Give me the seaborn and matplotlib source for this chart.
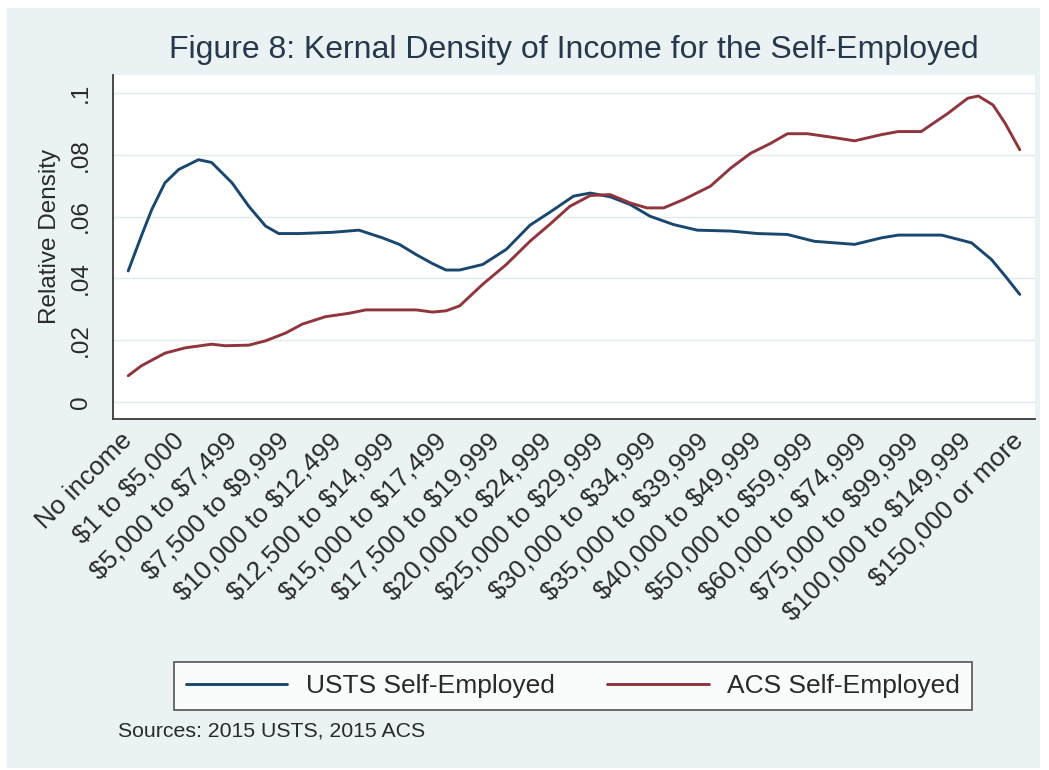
import matplotlib
matplotlib.use("Agg")
import matplotlib.pyplot as plt
from matplotlib.patches import Rectangle
import numpy as np
import pandas as pd
import seaborn as sns

# Income brackets shown on the x axis
categories = [
    "No income", "$1 to $5,000", "$5,000 to $7,499", "$7,500 to $9,999",
    "$10,000 to $12,499", "$12,500 to $14,999", "$15,000 to $17,499",
    "$17,500 to $19,999", "$20,000 to $24,999", "$25,000 to $29,999",
    "$30,000 to $34,999", "$35,000 to $39,999", "$40,000 to $49,999",
    "$50,000 to $59,999", "$60,000 to $74,999", "$75,000 to $99,999",
    "$100,000 to $149,999", "$150,000 or more",
]

# Kernel density curve, USTS self-employed (position in bracket units, density)
usts_pos = [0.00, 0.25, 0.45, 0.70, 0.96, 1.34, 1.59, 1.98, 2.30, 2.62, 2.87,
            3.25, 3.89, 4.40, 4.85, 5.17, 5.49, 5.80, 6.06, 6.32, 6.76, 7.21,
            7.66, 8.04, 8.49, 8.81, 9.19, 9.57, 9.95, 10.40, 10.85, 11.49,
            12.00, 12.57, 13.08, 13.85, 14.36, 14.68, 15.51, 16.08, 16.46,
            16.72, 17.00]
usts_val = [0.0424, 0.0537, 0.0623, 0.0709, 0.0752, 0.0784, 0.0775, 0.0709,
            0.0633, 0.0569, 0.0545, 0.0545, 0.0549, 0.0556, 0.0531, 0.0510,
            0.0477, 0.0448, 0.0427, 0.0427, 0.0445, 0.0494, 0.0572, 0.0614,
            0.0666, 0.0676, 0.0664, 0.0639, 0.0601, 0.0574, 0.0556, 0.0553,
            0.0545, 0.0542, 0.0520, 0.0510, 0.0531, 0.0540, 0.0540, 0.0515,
            0.0461, 0.0408, 0.0348]

# Kernel density curve, ACS self-employed
acs_pos = [0.00, 0.25, 0.70, 1.08, 1.59, 1.85, 2.30, 2.62, 3.00, 3.32, 3.76,
           4.21, 4.53, 5.49, 5.80, 6.06, 6.32, 6.76, 7.21, 7.66, 8.04, 8.42,
           8.81, 9.19, 9.57, 9.89, 10.21, 10.59, 11.10, 11.49, 11.87, 12.25,
           12.57, 12.95, 13.40, 13.85, 14.36, 14.68, 15.12, 15.63, 16.01,
           16.21, 16.49, 16.72, 17.00]
acs_val = [0.0085, 0.0117, 0.0158, 0.0175, 0.0187, 0.0182, 0.0184, 0.0198,
           0.0223, 0.0252, 0.0276, 0.0287, 0.0298, 0.0298, 0.0291, 0.0295,
           0.0311, 0.0381, 0.0445, 0.0520, 0.0575, 0.0633, 0.0668, 0.0671,
           0.0644, 0.0628, 0.0628, 0.0655, 0.0698, 0.0757, 0.0805, 0.0837,
           0.0868, 0.0868, 0.0857, 0.0845, 0.0865, 0.0875, 0.0875, 0.0934,
           0.0983, 0.0990, 0.0961, 0.0902, 0.0816]

y_ticks = [0, 0.02, 0.04, 0.06, 0.08, 0.1]
y_tick_labels = ["0", ".02", ".04", ".06", ".08", ".1"]

series_names = ["USTS Self-Employed", "ACS Self-Employed"]
series_colors = ["#1a476f", "#90353b"]

df = pd.concat([
    pd.DataFrame({"pos": usts_pos, "density": usts_val, "series": series_names[0]}),
    pd.DataFrame({"pos": acs_pos, "density": acs_val, "series": series_names[1]}),
], ignore_index=True)

sns.set_theme(style="white")
plt.rcParams["font.family"] = ["Liberation Sans", "DejaVu Sans"]

BG = "#eaf2f3"
TXT = "#2a2a2a"

fig = plt.figure(figsize=(10.49, 7.70), dpi=100, facecolor="white")
fig.patches.append(Rectangle((7 / 1049, 2 / 770), 1033 / 1049, 760 / 770,
                             transform=fig.transFigure, facecolor=BG,
                             edgecolor="none", zorder=-10))

ax = fig.add_axes([113 / 1049, 1 - 419 / 770, 922 / 1049, 344 / 770])
ax.set_facecolor("white")

sns.lineplot(data=df, x="pos", y="density", hue="series",
             hue_order=series_names, palette=series_colors,
             linewidth=2.1, ax=ax, legend=False)

ax.set_xlim(-0.29, 17.29)
ax.set_ylim(-0.0055, 0.1058)

ax.set_yticks(y_ticks)
ax.set_yticklabels(y_tick_labels)
ax.set_xticks(np.arange(len(categories)))
ax.set_xticklabels([c.replace("$", r"\$") for c in categories])

ax.grid(axis="y", color="#e1eaec", linewidth=1.0)
ax.grid(axis="x", visible=False)
ax.set_axisbelow(True)

for side in ["top", "right"]:
    ax.spines[side].set_visible(False)
for side in ["left", "bottom"]:
    ax.spines[side].set_color("#3a3a3a")
    ax.spines[side].set_linewidth(1.3)

ax.tick_params(axis="both", direction="out", length=9, width=1.2,
               color="#3a3a3a", labelcolor=TXT)
ax.tick_params(axis="y", labelsize=17.5, pad=6)
ax.tick_params(axis="x", labelsize=18.8, pad=4)
for lab in ax.get_yticklabels():
    lab.set_rotation(90)
    lab.set_va("center")
    lab.set_ha("right")
for lab in ax.get_xticklabels():
    lab.set_rotation(45)
    lab.set_ha("right")
    lab.set_va("center")
    lab.set_rotation_mode("anchor")

ax.set_xlabel("")
ax.set_ylabel("")
fig.text(50 / 1049, 1 - 236 / 770, "Relative Density", fontsize=17.5,
         color=TXT, rotation=90, ha="center", va="center")

fig.text(574 / 1049, 1 - 50 / 770,
         "Figure 8: Kernal Density of Income for the Self-Employed",
         fontsize=23, color="#26384a", ha="center", va="center")

handles = [plt.Line2D([], [], color=c, linewidth=2.1) for c in series_colors]
leg = fig.legend(handles, series_names, loc="center",
                 bbox_to_anchor=(573 / 1049, 1 - 686 / 770), ncol=2,
                 fontsize=19, frameon=True, fancybox=False,
                 handlelength=3.85, handletextpad=0.7, columnspacing=2.0,
                 borderpad=0.45)
leg.get_frame().set_edgecolor("#3a3a3a")
leg.get_frame().set_linewidth(1.3)
leg.get_frame().set_facecolor("white")
for t in leg.get_texts():
    t.set_color(TXT)

fig.text(118 / 1049, 1 - 731 / 770, "Sources: 2015 USTS, 2015 ACS",
         fontsize=15.3, color=TXT, ha="left", va="center")

fig.savefig("out.png", dpi=100, facecolor=fig.get_facecolor())
